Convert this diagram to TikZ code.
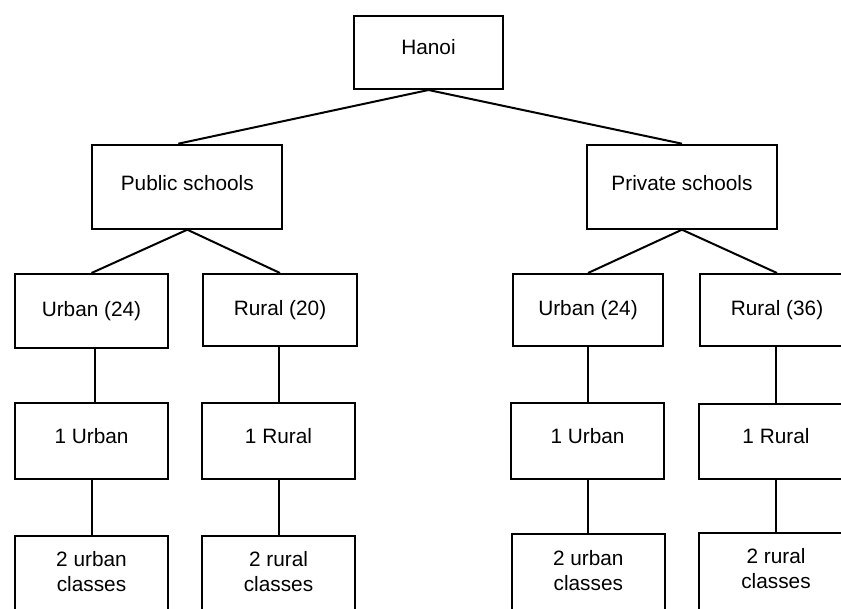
\documentclass[tikz,border=0pt]{standalone}
\usepackage{fontspec}
\setmainfont{Liberation Sans}
\usetikzlibrary{calc}
\begin{document}
\begin{tikzpicture}[x=1pt,y=-1pt,
  box/.style={draw, line width=2pt, rectangle, inner sep=0pt,
    font=\fontsize{20.8}{25}\selectfont, text height=15pt},
  lbl/.style={inner sep=0pt, align=center, font=\fontsize{20.8}{25}\selectfont},
  link/.style={line width=2pt}]
\useasboundingbox (0,0) rectangle (841,608);
\clip (0,0) rectangle (841,608);

% root
\node[box, minimum width=149pt, minimum height=73pt, text depth=12pt] (hanoi) at (428.5,52.5) {Hanoi};

% school types
\node[box, minimum width=190pt, minimum height=84pt, text depth=7pt] (pub) at (187.3,186.7) {Public schools};
\node[box, minimum width=190pt, minimum height=84pt, text depth=7pt] (priv) at (682,186.7) {Private schools};

% districts
\node[box, minimum width=153.6pt, minimum height=74pt, text depth=4pt] (pu) at (91.5,311) {Urban (24)};
\node[box, minimum width=154.6pt, minimum height=72pt, text depth=4pt] (pr) at (280,310) {Rural (20)};
\node[box, minimum width=150.6pt, minimum height=72pt, text depth=4pt] (vu) at (588,310) {Urban (24)};
\node[box, minimum width=154pt, minimum height=72pt, text depth=4pt] (vr) at (777,310) {Rural (36)};

% sampled schools
\node[box, minimum width=153.6pt, minimum height=75.4pt, text depth=10pt] (pu1) at (91.5,441) {1 Urban};
\node[box, minimum width=153.6pt, minimum height=76pt, text depth=10pt] (pr1) at (278.5,441) {1 Rural};
\node[box, minimum width=153pt, minimum height=75.4pt, text depth=10pt] (vu1) at (587.5,441) {1 Urban};
\node[box, minimum width=155pt, minimum height=74.7pt, text depth=10pt] (vr1) at (776,441.3) {1 Rural};

% sampled classes (boxes run past the lower edge)
\node[box, anchor=north, minimum width=153.6pt, minimum height=100pt] (pu2) at (91.5,535.3) {};
\node[box, anchor=north, minimum width=153.6pt, minimum height=100pt] (pr2) at (278.5,535.3) {};
\node[box, anchor=north, minimum width=153.3pt, minimum height=100pt] (vu2) at (588.3,533.3) {};
\node[box, anchor=north, minimum width=155pt, minimum height=100pt] (vr2) at (776,531.7) {};
\node[lbl] (pu2t) at (91.5,571.5) {2 urban\\classes};
\node[lbl] (pr2t) at (278.5,571.5) {2 rural\\classes};
\node[lbl] (vu2t) at (588.3,570.5) {2 urban\\classes};
\node[lbl] (vr2t) at (776,568.3) {2 rural\\classes};

% connectors
\draw[link] (hanoi.south) -- ($(pub.north)+(-9,0)$);
\draw[link] (hanoi.south) -- (priv.north);
\draw[link] (pub.south) -- (pu.north);
\draw[link] (pub.south) -- (pr.north);
\draw[link] (priv.south) -- (vu.north);
\draw[link] (priv.south) -- (vr.north);
% vertical drops
\draw[link] ($(pu.south)+(3.5,0)$) -- ($(pu1.north)+(3.5,0)$);
\draw[link] (pr1.north |- pr.south) -- (pr1.north);
\draw[link] (vu2.north |- vu.south) -- (vu2.north |- vu1.north);
\draw[link] (vr1.north |- vr.south) -- (vr1.north);
\draw[link] (pu1.south) -- (pu2.north);
\draw[link] (pr1.south) -- (pr2.north);
\draw[link] (vu2.north |- vu1.south) -- (vu2.north);
\draw[link, line width=2.6pt] (vr1.south) -- (vr2.north);
\end{tikzpicture}
\end{document}
